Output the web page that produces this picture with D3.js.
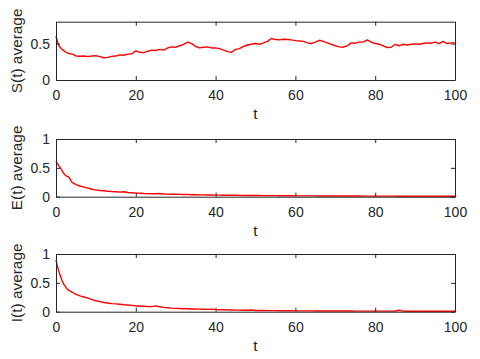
<!DOCTYPE html>
<html>
<head>
<meta charset="utf-8">
<script src="https://cdn.jsdelivr.net/npm/d3@7"></script>
<style>
  body { margin: 0; background: #fff; }
  svg { display: block; font-family: "Liberation Sans", Arial, sans-serif; }
</style>
</head>
<body>
<svg id="chart" width="480" height="359"></svg>
<script>
// time grid: finer at the start where E and I drop fast
const tEarly = [0, 0.25, 0.5, 0.75, 1, 1.5, 2, 2.5, 3, 3.5, 4, 4.5]
const tGrid = tEarly.concat(d3.range(5, 101))

const sAvg = [0.60, 0.55, 0.50, 0.47, 0.45, 0.42, 0.40, 0.38, 0.37, 0.36, 0.355, 0.345,
  0.33, 0.325, 0.33, 0.32, 0.33, 0.335, 0.32, 0.305, 0.31, 0.325, 0.33, 0.345, 0.34, 0.355, 0.36,
  0.40, 0.38, 0.375, 0.395, 0.41, 0.405, 0.42, 0.41, 0.44, 0.455, 0.45, 0.47, 0.49, 0.52, 0.50,
  0.46, 0.44, 0.45, 0.455, 0.44, 0.44, 0.43, 0.41, 0.39, 0.38, 0.42, 0.43, 0.46, 0.48, 0.49,
  0.50, 0.49, 0.51, 0.53, 0.57, 0.555, 0.55, 0.56, 0.555, 0.55, 0.54, 0.535, 0.53, 0.51, 0.50,
  0.52, 0.545, 0.53, 0.51, 0.49, 0.47, 0.455, 0.45, 0.47, 0.51, 0.505, 0.52, 0.52, 0.55, 0.52,
  0.50, 0.49, 0.47, 0.445, 0.45, 0.49, 0.47, 0.49, 0.48, 0.49, 0.495, 0.49, 0.50, 0.51, 0.505,
  0.52, 0.50, 0.53, 0.50, 0.51, 0.51]

const eAvg = [0.61, 0.58, 0.56, 0.53, 0.51, 0.45, 0.40, 0.36, 0.35, 0.31, 0.25, 0.23,
  0.21, 0.185, 0.165, 0.148, 0.13, 0.118, 0.108, 0.102, 0.095, 0.09, 0.087, 0.08, 0.085, 0.072, 0.068,
  0.062, 0.06, 0.056, 0.054, 0.052, 0.05, 0.055, 0.047, 0.045, 0.043, 0.042, 0.04, 0.038, 0.037, 0.035,
  0.034, 0.032, 0.031, 0.03, 0.029, 0.028, 0.027, 0.026, 0.025, 0.025, 0.024, 0.023, 0.022, 0.022, 0.021,
  0.02, 0.02, 0.019, 0.019, 0.018, 0.018, 0.017, 0.017, 0.016, 0.016, 0.015, 0.015, 0.015, 0.014, 0.014,
  0.014, 0.013, 0.013, 0.013, 0.012, 0.012, 0.012, 0.012, 0.011, 0.011, 0.011, 0.011, 0.01, 0.01, 0.01,
  0.01, 0.01, 0.01, 0.01, 0.01, 0.01, 0.009, 0.009, 0.009, 0.009, 0.009, 0.009, 0.009, 0.009, 0.008,
  0.008, 0.008, 0.008, 0.008, 0.008, 0.008]

const iAvg = [0.90, 0.82, 0.75, 0.69, 0.64, 0.54, 0.47, 0.42, 0.38, 0.36, 0.34, 0.32,
  0.30, 0.275, 0.255, 0.235, 0.21, 0.19, 0.175, 0.16, 0.15, 0.14, 0.135, 0.13, 0.12, 0.115, 0.11,
  0.10, 0.098, 0.095, 0.09, 0.088, 0.10, 0.085, 0.075, 0.068, 0.062, 0.058, 0.055, 0.052, 0.05, 0.048,
  0.046, 0.044, 0.042, 0.04, 0.045, 0.038, 0.035, 0.033, 0.031, 0.03, 0.028, 0.027, 0.026, 0.025, 0.03,
  0.022, 0.021, 0.02, 0.019, 0.019, 0.018, 0.017, 0.017, 0.016, 0.016, 0.015, 0.015, 0.014, 0.014, 0.014,
  0.013, 0.013, 0.013, 0.012, 0.012, 0.012, 0.011, 0.011, 0.011, 0.011, 0.01, 0.01, 0.01, 0.01, 0.01,
  0.01, 0.01, 0.01, 0.01, 0.01, 0.012, 0.025, 0.01, 0.009, 0.009, 0.009, 0.009, 0.009, 0.009, 0.008,
  0.008, 0.008, 0.008, 0.008, 0.008, 0.008]

const xTicks = [0, 20, 40, 60, 80, 100]
const sTicks = [0, 0.5]
const eiTicks = [0, 0.5, 1]

const panels = [
  { label: 'S(t) average', values: sAvg, yMax: 0.8, ticks: sTicks, top: 21.7, bottom: 80 },
  { label: 'E(t) average', values: eAvg, yMax: 1, ticks: eiTicks, top: 139, bottom: 196.7 },
  { label: 'I(t) average', values: iAvg, yMax: 1, ticks: eiTicks, top: 254, bottom: 311.7 }
]

const left = 56, right = 455
const ink = '#262626'
const svg = d3.select('#chart')

const x = d3.scaleLinear().domain([0, 100]).range([left, right])

panels.forEach(p => {
  const y = d3.scaleLinear().domain([0, p.yMax]).range([p.bottom, p.top])
  const g = svg.append('g')

  // data line first so the box sits on top
  g.append('path')
    .datum(p.values)
    .attr('fill', 'none')
    .attr('stroke', '#ff0000')
    .attr('stroke-width', 1.4)
    .attr('stroke-linejoin', 'round')
    .attr('d', d3.line().x((d, i) => x(tGrid[i])).y(d => y(d)))

  const bottomAxis = g.append('g')
    .attr('transform', `translate(0,${p.bottom})`)
    .call(d3.axisBottom(x).tickValues(xTicks).tickSizeInner(-4).tickSizeOuter(0).tickPadding(10))
  const topAxis = g.append('g')
    .attr('transform', `translate(0,${p.top})`)
    .call(d3.axisTop(x).tickValues(xTicks).tickSizeInner(-4).tickSizeOuter(0).tickFormat(''))
  const leftAxis = g.append('g')
    .attr('transform', `translate(${left},0)`)
    .call(d3.axisLeft(y).tickValues(p.ticks).tickSizeInner(-4).tickSizeOuter(0).tickPadding(6)
      .tickFormat(d3.format('~g')))
  const rightAxis = g.append('g')
    .attr('transform', `translate(${right},0)`)
    .call(d3.axisRight(y).tickValues(p.ticks).tickSizeInner(-4).tickSizeOuter(0).tickFormat(''))

  ;[bottomAxis, topAxis, leftAxis, rightAxis].forEach(a => {
    a.select('.domain').attr('stroke', ink).attr('stroke-width', 1)
    a.selectAll('.tick line').attr('stroke', ink)
    a.selectAll('.tick text').attr('fill', ink).style('font-size', '14px')
      .style('font-family', '"Liberation Sans", Arial, sans-serif')
  })

  g.append('text')
    .attr('transform', `translate(17,${(p.top + p.bottom) / 2}) rotate(-90)`)
    .attr('text-anchor', 'middle')
    .attr('dy', '0.35em')
    .attr('fill', ink)
    .style('font-size', '15.4px')
    .text(p.label)

  g.append('text')
    .attr('x', (left + right) / 2)
    .attr('y', p.bottom + 39)
    .attr('text-anchor', 'middle')
    .attr('fill', ink)
    .style('font-size', '15.4px')
    .text('t')
})
</script>
</body>
</html>
